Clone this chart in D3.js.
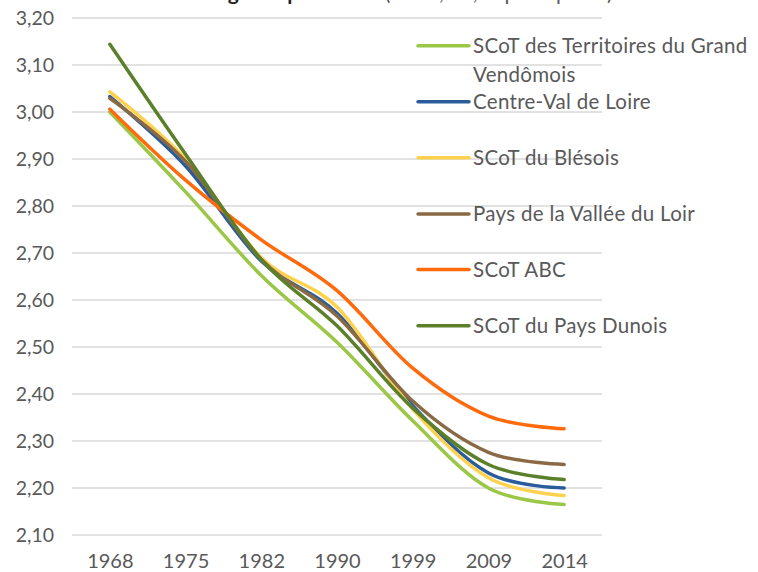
<!DOCTYPE html>
<html>
<head>
<meta charset="utf-8">
<title>Taille des ménages</title>
<script src="https://d3js.org/d3.v7.min.js"></script>
<style>
	body { margin: 0; background: #fff; }
	text { font-family: Lato, "Noto Sans", sans-serif; fill: #595959; }
	.grid line { stroke: #d9d9d9; stroke-width: 1.5; }
	.serie { fill: none; stroke-width: 3.5; stroke-linecap: round; stroke-linejoin: round; }
</style>
</head>
<body>
<script>

	// Années (axe des x) et graduations de l'axe des y
	var years = ["1968", "1975", "1982", "1990", "1999", "2009", "2014"]
	var yTicks = [2.10, 2.20, 2.30, 2.40, 2.50, 2.60, 2.70, 2.80, 2.90, 3.00, 3.10, 3.20]

	// Nombre moyen de personnes par ménage
	var vendomois = [3.00, 2.83, 2.652, 2.51, 2.343, 2.20, 2.165]
	var centre    = [3.033, 2.885, 2.683, 2.572, 2.375, 2.232, 2.20]
	var blesois   = [3.043, 2.90, 2.69, 2.585, 2.368, 2.222, 2.184]
	var loir      = [3.029, 2.895, 2.686, 2.566, 2.385, 2.276, 2.25]
	var abc       = [3.006, 2.855, 2.728, 2.62, 2.455, 2.353, 2.326]
	var dunois    = [3.144, 2.91, 2.686, 2.545, 2.37, 2.25, 2.218]

	var names = ["SCoT des Territoires du Grand Vendômois", "Centre-Val de Loire", "SCoT du Blésois",
		"Pays de la Vallée du Loir", "SCoT ABC", "SCoT du Pays Dunois"]
	var colors = ["#9BC746", "#2A5C9B", "#FFD24D", "#8A6A45", "#FF6A0D", "#5B7F2A"]

	var series = [vendomois, centre, blesois, loir, abc, dunois].map(function(v, i) {
		return {name: names[i], color: colors[i], values: v}
	})

	var width = 758, height = 572

	var svg = d3.select("body").append("svg")
		.attr("width", width)
		.attr("height", height)

	var x = d3.scalePoint().domain(years).range([72, 602]).padding(0.5)
	var y = d3.scaleLinear().domain([2.1, 3.2]).range([535, 18])

	// titre (coupé par le haut du cadre, seuls les jambages dépassent)
	var title = svg.append("text")
		.attr("x", 86)
		.attr("y", 0)
		.style("font-size", "21px")
	title.append("tspan").style("font-weight", "bold").style("fill", "#262626").text("Taille des ménages depuis 1968 ")
	title.append("tspan").text("(Insee, RP, exploit. princ.)")

	// grille horizontale
	svg.append("g").attr("class", "grid")
		.selectAll("line")
		.data(yTicks)
		.enter().append("line")
		.attr("x1", 72).attr("x2", 602)
		.attr("y1", function(d) { return y(d) })
		.attr("y2", function(d) { return y(d) })

	// axe des y
	var yAxis = svg.append("g")
		.attr("transform", "translate(54,0)")
		.call(d3.axisLeft(y).tickValues(yTicks).tickSize(0).tickPadding(0)
			.tickFormat(function(d) { return d3.format(".2f")(d).replace(".", ",") }))
	yAxis.select(".domain").remove()
	yAxis.selectAll("text").style("font-size", "19.5px").style("font-family", "Lato, sans-serif").attr("fill", null)

	// axe des x
	var xAxis = svg.append("g")
		.attr("transform", "translate(0,535)")
		.call(d3.axisBottom(x).tickSize(0).tickPadding(19))
	xAxis.select(".domain").remove()
	xAxis.selectAll("text").style("font-size", "20px").style("font-family", "Lato, sans-serif").attr("fill", null)

	// courbes lissées
	var line = d3.line()
		.x(function(d, i) { return x(years[i]) })
		.y(function(d) { return y(d) })
		.curve(d3.curveCardinal.tension(0))

	svg.append("g").selectAll("path")
		.data(series)
		.enter().append("path")
		.attr("class", "serie")
		.attr("stroke", function(d) { return d.color })
		.attr("d", function(d) { return line(d.values) })

	// légende
	var legendY = [45.7, 101.7, 157.7, 214, 269.5, 325.7]
	var legend = svg.append("g").selectAll("g")
		.data(series)
		.enter().append("g")
		.attr("transform", function(d, i) { return "translate(418," + legendY[i] + ")" })

	legend.append("line")
		.attr("x1", 0).attr("x2", 51)
		.attr("stroke", function(d) { return d.color })
		.attr("stroke-width", 3.5)
		.attr("stroke-linecap", "round")

	legend.append("text")
		.attr("x", 55)
		.attr("dy", "0.35em")
		.style("font-size", "20.5px")
		.style("letter-spacing", "0.3px")
		.each(function(d) {
			var t = d3.select(this)
			if (d.name.length > 30) {
				t.append("tspan").attr("x", 55).text("SCoT des Territoires du Grand")
				t.append("tspan").attr("x", 55).attr("dy", 29).text("Vendômois")
			} else {
				t.text(d.name)
			}
		})

</script>
</body>
</html>
